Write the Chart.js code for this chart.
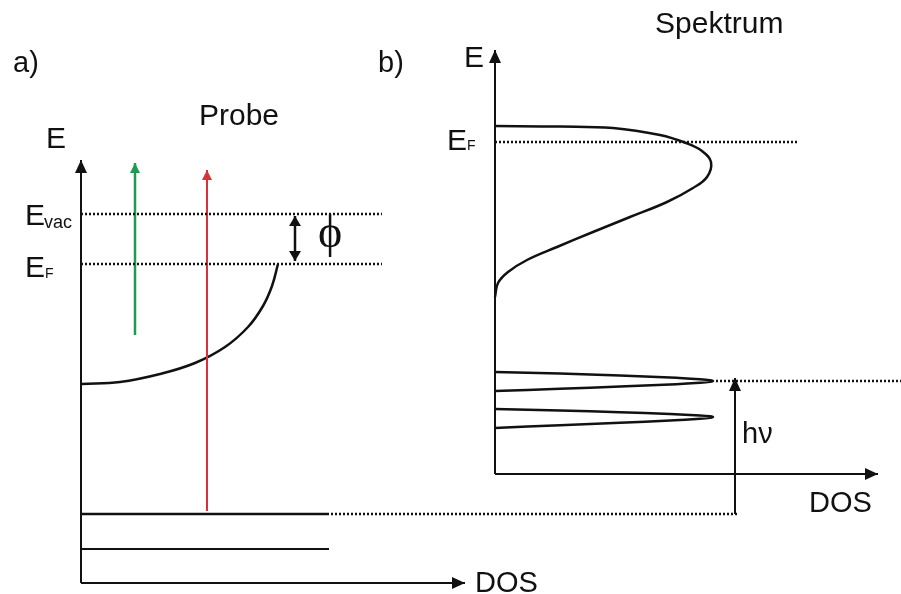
<!DOCTYPE html>
<html>
<head>
<meta charset="utf-8">
<script src="https://cdn.jsdelivr.net/npm/chart.js@4"></script>
<style>
  html, body { margin: 0; padding: 0; background: #fff; }
  #wrap { width: 901px; height: 594px; }
</style>
</head>
<body>
<div id="wrap"><canvas id="diagram" width="901" height="594"></canvas></div>
<script>
// ==========================
// DATA (diagram units, y grows downward)
// ==========================
// a) Probe
const axisAE = [[81, 583], [81, 160]];
const axisADos = [[81, 583], [465, 583]];
const levelAVac = [[81, 214], [382, 214]];
const levelAFermi = [[81, 264], [382, 264]];
const beamGreen = [[135, 335], [135, 163]];
const beamRed = [[207, 511], [207, 170]];
const workFn = [[295, 216], [295, 261]];
const bandA = [[82, 384], [120, 382], [160, 374], [195, 363], [225, 347], [248, 327], [263, 306], [272, 286], [278, 264]];
const coreA1 = [[81, 514], [329, 514]];
const coreA1Link = [[331, 514], [738, 514]];
const coreA2 = [[81, 549], [329, 549]];

// b) Spektrum
const axisBE = [[495, 474], [495, 50]];
const axisBDos = [[495, 474], [878, 474]];
const levelBFermi = [[495, 142], [797, 142]];
const bandB = [[495, 126], [560, 126.5], [613, 128], [660, 135], [686, 143], [702, 151], [711, 162], [707, 177],
  [693, 188], [667, 202], [630, 217], [593, 232], [557, 247], [527, 260], [508, 272], [498, 283], [495, 297]];
const peakB1 = [[495, 372], [560, 373.5], [620, 375.5], [670, 377.5], [700, 379.3], [710, 380.2], [713, 381],
  [710, 381.8], [700, 382.7], [670, 384.5], [620, 386.6], [560, 388.8], [495, 391]];
const peakB2 = [[495, 409], [560, 410.5], [620, 412.3], [670, 414], [700, 415.5], [710, 416.3], [713, 417],
  [710, 417.8], [700, 418.7], [670, 420.5], [620, 422.8], [560, 425.2], [495, 428]];
const peakB1Link = [[716, 381], [901, 381]];
const photon = [[735, 514], [735, 378]];

// Text labels
const labels = [
  { text: "a)", x: 13, y: 72, size: 29 },
  { text: "b)", x: 378, y: 72, size: 29 },
  { text: "Probe", x: 199, y: 125, size: 30 },
  { text: "Spektrum", x: 655, y: 33, size: 30 },
  { text: "E", x: 46, y: 148, size: 30 },
  { text: "E", x: 464, y: 67, size: 30 },
  { text: "E", x: 25, y: 225, size: 30 },
  { text: "vac", x: 44, y: 228, size: 18 },
  { text: "E", x: 25, y: 277, size: 30 },
  { text: "F", x: 45, y: 278, size: 14 },
  { text: "E", x: 447, y: 150, size: 30 },
  { text: "F", x: 467, y: 150, size: 14 },
  { text: "hν", x: 742, y: 443, size: 29 },
  { text: "DOS", x: 475, y: 592, size: 29 },
  { text: "DOS", x: 809, y: 512, size: 29 },
  { text: "ϕ", x: 318, y: 247, size: 46, serif: true }
];

// ==========================
// HELPERS
// ==========================
const INK = "#111111";
const GREEN = "#1c9c4f";
const RED = "#d9303a";

function pts(list) {
  return list.map(p => ({ x: p[0], y: p[1] }));
}

function solid(list, color, width, extra) {
  return Object.assign({
    data: pts(list), showLine: true, borderColor: color, borderWidth: width,
    pointRadius: 0, tension: 0, fill: false
  }, extra || {});
}

function dotted(list) {
  return solid(list, INK, 2.5, { borderDash: [2, 2] });
}

function curve(list, t) {
  return solid(list, INK, 2.5, { tension: t });
}

// arrowheads drawn at line ends, tip on the end point
const arrowPlugin = {
  id: "arrows",
  afterDatasetsDraw(chart) {
    const ctx = chart.ctx;
    chart.data.datasets.forEach((ds, i) => {
      if (!ds.arrow) return;
      const els = chart.getDatasetMeta(i).data;
      const len = ds.arrow.len, half = ds.arrow.half;
      const head = (tip, from) => {
        const dx = tip.x - from.x, dy = tip.y - from.y;
        const d = Math.hypot(dx, dy) || 1;
        const ux = dx / d, uy = dy / d;
        const bx = tip.x - ux * len, by = tip.y - uy * len;
        ctx.beginPath();
        ctx.moveTo(tip.x, tip.y);
        ctx.lineTo(bx - uy * half, by + ux * half);
        ctx.lineTo(bx + uy * half, by - ux * half);
        ctx.closePath();
        ctx.fill();
      };
      ctx.save();
      ctx.fillStyle = ds.borderColor;
      if (ds.arrow.end) head(els[els.length - 1], els[els.length - 2]);
      if (ds.arrow.start) head(els[0], els[1]);
      ctx.restore();
    });
  }
};

const labelPlugin = {
  id: "labels",
  afterDatasetsDraw(chart) {
    const { ctx, scales: { x, y } } = chart;
    ctx.save();
    ctx.fillStyle = INK;
    ctx.textBaseline = "alphabetic";
    labels.forEach(l => {
      ctx.font = l.size + "px " + (l.serif ? "'Liberation Serif', 'DejaVu Serif', serif" : "'Liberation Sans', Arial, sans-serif");
      ctx.fillText(l.text, x.getPixelForValue(l.x), y.getPixelForValue(l.y));
    });
    ctx.restore();
  }
};

const bigHead = { end: true, len: 13, half: 6 };
const smallHead = { end: true, len: 10, half: 5 };

// ==========================
// CHART
// ==========================
new Chart(document.getElementById("diagram"), {
  type: "scatter",
  data: {
    datasets: [
      dotted(levelAVac),
      dotted(levelAFermi),
      dotted(coreA1Link),
      dotted(levelBFermi),
      dotted(peakB1Link),
      solid(axisAE, INK, 2, { arrow: bigHead }),
      solid(axisADos, INK, 2, { arrow: bigHead }),
      solid(beamGreen, GREEN, 2.5, { arrow: smallHead }),
      solid(beamRed, RED, 2, { arrow: smallHead }),
      solid(workFn, INK, 2.5, { arrow: { start: true, end: true, len: 10, half: 6 } }),
      curve(bandA, 0.4),
      solid(coreA1, INK, 2.5),
      solid(coreA2, INK, 2),
      solid(axisBE, INK, 2, { arrow: bigHead }),
      solid(axisBDos, INK, 2, { arrow: bigHead }),
      curve(bandB, 0.4),
      curve(peakB1, 0.3),
      curve(peakB2, 0.3),
      solid(photon, INK, 2, { arrow: bigHead })
    ]
  },
  options: {
    responsive: false,
    devicePixelRatio: 1,
    animation: false,
    layout: { padding: 0 },
    plugins: { legend: { display: false }, tooltip: { enabled: false } },
    scales: {
      x: { type: "linear", min: 0, max: 901, display: false },
      y: { type: "linear", min: 0, max: 594, reverse: true, display: false }
    }
  },
  plugins: [arrowPlugin, labelPlugin]
});
</script>
</body>
</html>
